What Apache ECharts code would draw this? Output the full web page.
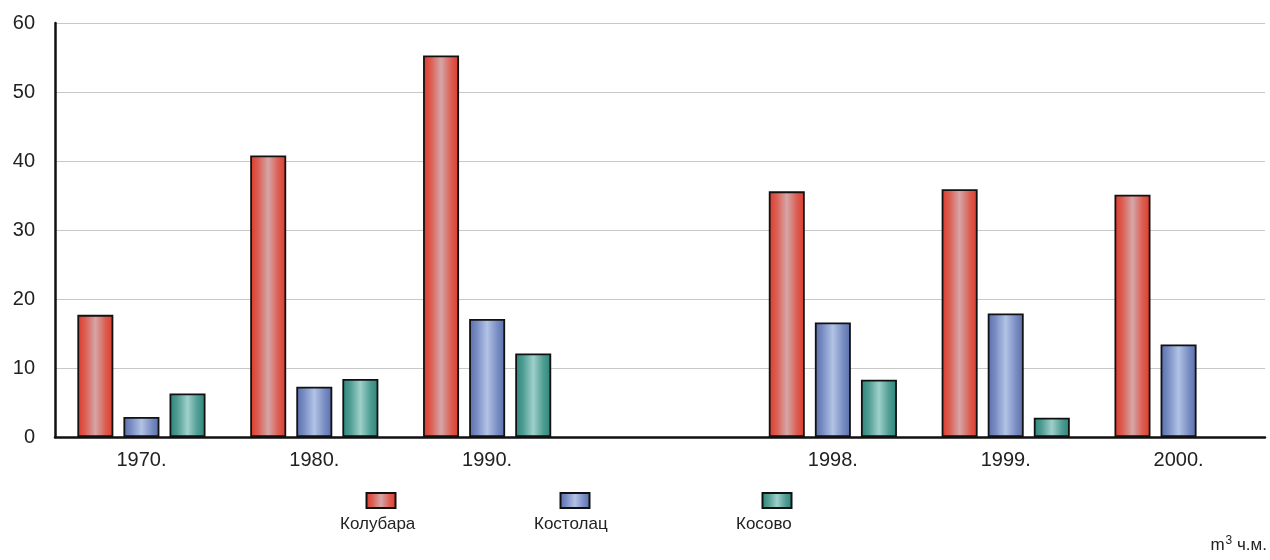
<!DOCTYPE html>
<html>
<head>
<meta charset="utf-8">
<script src="https://cdn.jsdelivr.net/npm/echarts@6/dist/echarts.min.js"></script>
<style>
html,body{margin:0;padding:0;background:#fff;}
#chart{width:1270px;height:560px;}
</style>
</head>
<body>
<div id="chart"></div>
<script>
var categories = ['1970.', '1980.', '1990.', '', '1998.', '1999.', '2000.'];
var seriesNames = ['Колубара', 'Костолац', 'Косово'];
var kolubara = [17.7, 40.8, 55.3, null, 35.6, 35.9, 35.1];
var kostolac = [2.9, 7.3, 17.1, null, 16.6, 17.9, 13.4];
var kosovo = [6.3, 8.4, 12.1, null, 8.3, 2.8, null];
var yTicks = [0, 10, 20, 30, 40, 50, 60];

function grad(edge, quarter, mid) {
  return new echarts.graphic.LinearGradient(0, 0, 1, 0, [
    {offset: 0, color: edge},
    {offset: 0.22, color: quarter},
    {offset: 0.5, color: mid},
    {offset: 0.78, color: quarter},
    {offset: 1, color: edge}
  ]);
}
var colors = [
  grad('#dd3a2b', '#dc5e52', '#d5a6a8'),
  grad('#586cab', '#7a8ec4', '#b2c3e5'),
  grad('#2a8579', '#4f9d93', '#9fd0cb')
];
var datasets = [kolubara, kostolac, kosovo];
var FONT = 'Liberation Sans, Arial, sans-serif';

var series = datasets.map(function (d, i) {
  return {
    name: seriesNames[i],
    type: 'bar',
    data: d,
    barWidth: 36,
    barGap: '28%',
    itemStyle: {color: colors[i], borderColor: '#111', borderWidth: 1.8},
    emphasis: {disabled: true}
  };
});

var legendCenters = [380, 574, 776];
var legends = legendCenters.map(function (cx, i) {
  return {
    data: [{name: seriesNames[i], icon: 'rect'}],
    left: cx - 14.5,
    top: 492,
    itemWidth: 29,
    itemHeight: 15,
    padding: 0,
    selectedMode: false,
    formatter: function () { return ''; },
    textStyle: {fontSize: 1}
  };
});

var graphics = legendCenters.map(function (cx, i) {
  return {
    type: 'text',
    left: cx - 40,
    top: 516,
    style: {
      text: seriesNames[i],
      fontSize: 17,
      fontFamily: FONT,
      fill: '#222',
      width: 80,
      align: 'center'
    }
  };
});
graphics.push({
  type: 'text',
  right: 3,
  top: 535,
  style: {
    text: 'm{sup|3} ч.м.',
    fontSize: 17,
    fontFamily: FONT,
    fill: '#222',
    rich: {sup: {fontSize: 12, fontFamily: FONT, fill: '#222', verticalAlign: 'top', padding: [0, 0, 8, 1]}}
  }
});

var option = {
  animation: false,
  backgroundColor: '#fff',
  grid: {left: 55, right: 5, top: 23, bottom: 123, containLabel: false},
  legend: legends,
  graphic: graphics,
  xAxis: {
    type: 'category',
    data: categories,
    axisLine: {lineStyle: {color: '#111', width: 2.5}},
    axisTick: {show: false},
    axisLabel: {fontSize: 20, fontFamily: FONT, color: '#222', margin: 13}
  },
  yAxis: {
    type: 'value',
    min: yTicks[0],
    max: yTicks[yTicks.length - 1],
    interval: 10,
    axisLine: {show: true, lineStyle: {color: '#111', width: 2.5}},
    axisTick: {show: false},
    axisLabel: {fontSize: 20, fontFamily: FONT, color: '#222', margin: 20},
    splitLine: {lineStyle: {color: '#c8c8c8', width: 1.2}}
  },
  series: series
};

var chart = echarts.init(document.getElementById('chart'), null, {renderer: 'canvas'});
chart.setOption(option);
</script>
</body>
</html>
